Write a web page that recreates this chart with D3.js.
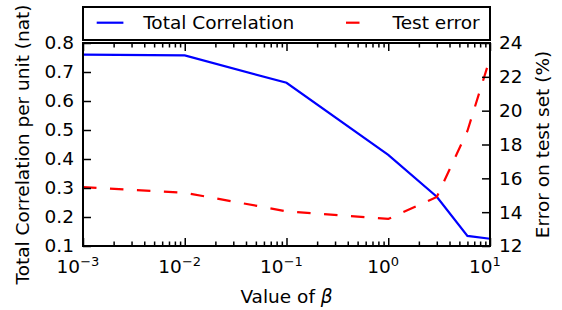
<!DOCTYPE html>
<html>
<head>
<meta charset="utf-8">
<script src="https://cdn.jsdelivr.net/npm/d3@7"></script>
<style>
    body { margin: 0; background: #fff; }
    text { font-family: "DejaVu Sans", sans-serif; fill: #000; }
</style>
</head>
<body>
<div id="chart"></div>
<script>
const betas = [0.001, 0.01, 0.1, 1, 3, 6, 10];
const totalCorrelation = [0.760, 0.757, 0.663, 0.414, 0.270, 0.135, 0.125];
const testError = [15.48, 15.15, 14.05, 13.6, 14.9, 18.8, 23.1];

const seriesNames = ["Total Correlation", "Test error"];
const leftTicks = [0.1, 0.2, 0.3, 0.4, 0.5, 0.6, 0.7, 0.8];
const rightTicks = [12, 14, 16, 18, 20, 22, 24];
const xTicks = [1e-3, 1e-2, 1e-1, 1e0, 1e1];
const xTickExponents = ["\u22123", "\u22122", "\u22121", "0", "1"];

const width = 562, height = 310;
const margin = { top: 43, right: 72, bottom: 64, left: 83 };
const x0 = margin.left, x1 = width - margin.right;
const y0 = height - margin.bottom, y1 = margin.top;
const fontSize = 18.5;

const svg = d3.select("#chart")
    .append("svg")
    .attr("width", width)
    .attr("height", height);

const x = d3.scaleLog().domain([1e-3, 10]).range([x0, x1]);
const yLeft = d3.scaleLinear().domain([0.1, 0.8]).range([y0, y1]);
const yRight = d3.scaleLinear().domain([12, 24]).range([y0, y1]);

// minor ticks for the log axis (2..9 in every decade)
const minorTicks = [];
for (let e = -3; e < 1; e++) {
    for (let m = 2; m < 10; m++) minorTicks.push(m * Math.pow(10, e));
}

// lines first, spines and ticks drawn on top
const lineLeft = d3.line().x((d, i) => x(betas[i])).y(d => yLeft(d));
const lineRight = d3.line().x((d, i) => x(betas[i])).y(d => yRight(d));

svg.append("path")
    .datum(totalCorrelation)
    .attr("d", lineLeft)
    .attr("fill", "none")
    .attr("stroke", "#0000ff")
    .attr("stroke-width", 2.2);

svg.append("path")
    .datum(testError)
    .attr("d", lineRight)
    .attr("fill", "none")
    .attr("stroke", "#ff0000")
    .attr("stroke-width", 2.2)
    .attr("stroke-dasharray", "13.5,13.5");

function styleAxis(g) {
    g.select(".domain").remove();
    g.selectAll(".tick line").attr("stroke", "#000").attr("stroke-width", 1.5);
    g.selectAll(".tick text").attr("font-size", fontSize).attr("font-family", "DejaVu Sans");
}

// bottom axis, major ticks with 10^n labels
const gBottom = svg.append("g")
    .attr("transform", `translate(0,${y0})`)
    .call(d3.axisBottom(x).tickValues(xTicks).tickSizeInner(-8).tickSizeOuter(0).tickFormat(""))
    .call(styleAxis);

gBottom.selectAll(".tick text")
    .attr("y", 27)
    .attr("dy", null)
    .attr("dx", "-0.3em")
    .each(function(d, i) {
        const t = d3.select(this);
        t.append("tspan").text("10");
        t.append("tspan")
            .attr("font-size", 13)
            .attr("dy", -7.5)
            .text(xTickExponents[i]);
    });

svg.append("g")
    .attr("transform", `translate(0,${y0})`)
    .call(d3.axisBottom(x).tickValues(minorTicks).tickSizeInner(-4.5).tickSizeOuter(0).tickFormat(""))
    .call(styleAxis);

// top axis, ticks only
svg.append("g")
    .attr("transform", `translate(0,${y1})`)
    .call(d3.axisTop(x).tickValues(xTicks).tickSizeInner(-8).tickSizeOuter(0).tickFormat(""))
    .call(styleAxis);

svg.append("g")
    .attr("transform", `translate(0,${y1})`)
    .call(d3.axisTop(x).tickValues(minorTicks).tickSizeInner(-4.5).tickSizeOuter(0).tickFormat(""))
    .call(styleAxis);

// left axis
svg.append("g")
    .attr("transform", `translate(${x0},0)`)
    .call(d3.axisLeft(yLeft).tickValues(leftTicks).tickSizeInner(-8).tickSizeOuter(0)
        .tickPadding(9).tickFormat(d3.format(".1f")))
    .call(styleAxis);

// right axis
svg.append("g")
    .attr("transform", `translate(${x1},0)`)
    .call(d3.axisRight(yRight).tickValues(rightTicks).tickSizeInner(-8).tickSizeOuter(0)
        .tickPadding(9).tickFormat(d3.format("d")))
    .call(styleAxis);

// spines
svg.append("rect")
    .attr("x", x0)
    .attr("y", y1)
    .attr("width", x1 - x0)
    .attr("height", y0 - y1)
    .attr("fill", "none")
    .attr("stroke", "#000")
    .attr("stroke-width", 2);

// axis labels
const xLabel = svg.append("text")
    .attr("x", (x0 + x1) / 2)
    .attr("y", 303)
    .attr("text-anchor", "middle")
    .attr("font-size", fontSize);
xLabel.append("tspan").text("Value of ");
xLabel.append("tspan").attr("font-style", "italic").text("\u03b2");

svg.append("text")
    .attr("transform", `translate(29,${(y0 + y1) / 2}) rotate(-90)`)
    .attr("text-anchor", "middle")
    .attr("font-size", fontSize)
    .text("Total Correlation per unit (nat)");

svg.append("text")
    .attr("transform", `translate(549,${(y0 + y1) / 2}) rotate(-90)`)
    .attr("text-anchor", "middle")
    .attr("font-size", fontSize)
    .text("Error on test set (%)");

// legend above the plot, two columns stretched across the axes width
const legend = svg.append("g");
legend.append("rect")
    .attr("x", x0)
    .attr("y", 7)
    .attr("width", x1 - x0)
    .attr("height", 33)
    .attr("fill", "#fff")
    .attr("stroke", "#000")
    .attr("stroke-width", 2);

const legendItems = [
    { name: seriesNames[0], color: "#0000ff", dash: null, hx: 96.7 },
    { name: seriesNames[1], color: "#ff0000", dash: "13.5,13.5", hx: 346 }
];
legendItems.forEach(item => {
    legend.append("line")
        .attr("x1", item.hx)
        .attr("x2", item.hx + 26.7)
        .attr("y1", 22.7)
        .attr("y2", 22.7)
        .attr("stroke", item.color)
        .attr("stroke-width", 2.2)
        .attr("stroke-dasharray", item.dash);
    legend.append("text")
        .attr("x", item.hx + 46.5)
        .attr("y", 29)
        .attr("font-size", fontSize)
        .text(item.name);
});
</script>
</body>
</html>
